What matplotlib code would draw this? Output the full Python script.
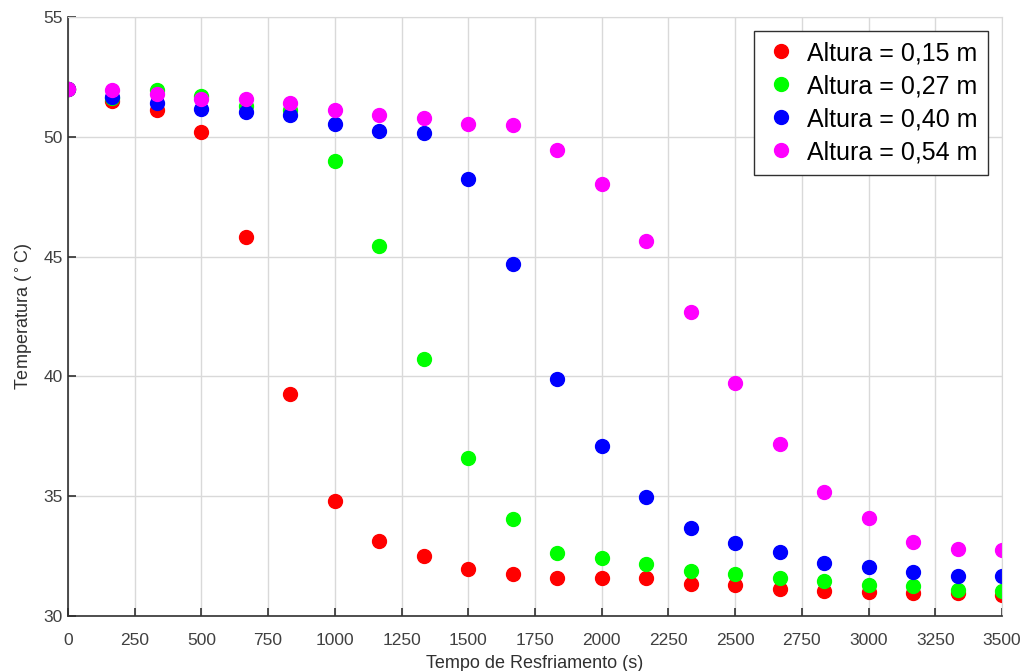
import matplotlib.pyplot as plt
import numpy as np

plt.rcParams['font.family'] = ['Liberation Sans', 'DejaVu Sans']

# tempo de resfriamento (s): 22 leituras
tempo = np.arange(22) * 3500 / 21

temp_015 = [52.0, 51.5, 51.13, 50.2, 45.83, 39.27, 34.79, 33.12, 32.5, 31.96, 31.75,
            31.58, 31.58, 31.58, 31.33, 31.29, 31.12, 31.04, 31.0, 30.96, 30.96, 30.88]
temp_027 = [52.0, 51.6, 51.95, 51.72, 51.3, 51.1, 49.0, 45.46, 40.71, 36.58, 34.04,
            32.63, 32.42, 32.17, 31.87, 31.75, 31.58, 31.46, 31.29, 31.25, 31.08, 31.04]
temp_040 = [52.0, 51.67, 51.42, 51.17, 51.04, 50.9, 50.54, 50.25, 50.17, 48.25, 44.7,
            39.87, 37.08, 34.96, 33.66, 33.04, 32.67, 32.21, 32.04, 31.83, 31.67, 31.67]
temp_054 = [52.0, 51.96, 51.8, 51.58, 51.57, 51.42, 51.13, 50.92, 50.79, 50.54, 50.5,
            49.46, 48.04, 45.67, 42.7, 39.71, 37.17, 35.17, 34.08, 33.08, 32.79, 32.75]

series = [
    (temp_015, '#ff0000', 'Altura = 0,15 m'),
    (temp_027, '#00ff00', 'Altura = 0,27 m'),
    (temp_040, '#0000ff', 'Altura = 0,40 m'),
    (temp_054, '#ff00ff', 'Altura = 0,54 m'),
]

fig = plt.figure(figsize=(10.28, 6.71), dpi=100)
ax = fig.add_axes([0.0661, 0.082, 0.9086, 0.8927])

for temps, cor, nome in series:
    ax.plot(tempo, temps, 'o', color=cor, markersize=10, label=nome)

ax.set_xlim(0, 3500)
ax.set_ylim(30, 55)
ax.set_xticks(np.arange(0, 3501, 250))
ax.set_yticks(np.arange(30, 56, 5))
ax.grid(True, color='#d9d9d9', linewidth=1)
ax.set_axisbelow(True)

for lado in ['top', 'right']:
    ax.spines[lado].set_color('#d9d9d9')
for lado in ['left', 'bottom']:
    ax.spines[lado].set_color('#303030')
    ax.spines[lado].set_linewidth(1.2)
ax.tick_params(direction='in', length=6, width=1.2, color='#303030',
               labelsize=12.5, labelcolor='#404040', top=False, right=False)
ax.tick_params(axis='x', pad=12)

ax.set_xlabel('Tempo de Resfriamento (s)', fontsize=13, color='#303030', labelpad=5)
ax.set_ylabel('Temperatura ($^\\circ$C)', fontsize=13, color='#303030', labelpad=6)

leg = ax.legend(loc='upper right', fontsize=18, fancybox=False, framealpha=1,
                edgecolor='#303030', borderaxespad=0.55, labelspacing=0.36,
                handletextpad=0.4, handlelength=1.3, borderpad=0.42)
leg.get_frame().set_linewidth(1.0)

fig.savefig('out.png', dpi=100)
